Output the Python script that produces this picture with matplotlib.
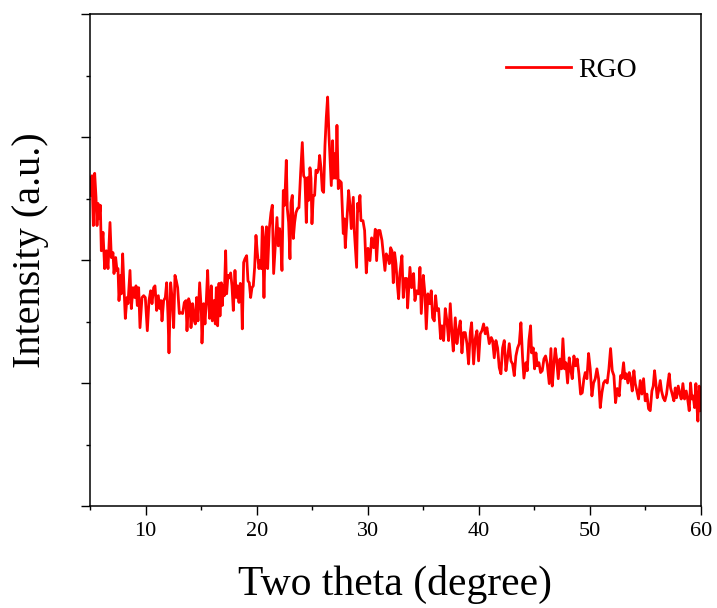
import matplotlib
matplotlib.use("Agg")
import matplotlib.pyplot as plt
from matplotlib.ticker import MultipleLocator, NullFormatter

plt.rcParams['font.family'] = ['Liberation Serif', 'DejaVu Serif']

two_theta = [
    5.00, 5.18, 5.30, 5.42, 5.54, 5.63, 5.72, 5.81, 5.93, 6.02, 6.17, 6.32, 6.47, 6.62, 6.80, 6.92,
    7.07, 7.16, 7.31, 7.43, 7.52, 7.61, 7.76, 7.82, 7.94, 8.06, 8.18, 8.33, 8.42, 8.60, 8.72, 8.87,
    9.02, 9.14, 9.26, 9.38, 9.50, 9.68, 9.83, 9.98, 10.16, 10.31, 10.46, 10.58, 10.73, 10.85, 11.00,
    11.15, 11.27, 11.39, 11.48, 11.63, 11.78, 11.90, 12.02, 12.11, 12.26, 12.41, 12.53, 12.65, 12.77,
    12.89, 13.04, 13.19, 13.34, 13.49, 13.64, 13.73, 13.88, 14.00, 14.09, 14.24, 14.39, 14.48, 14.60,
    14.72, 14.87, 15.02, 15.08, 15.23, 15.35, 15.47, 15.59, 15.68, 15.77, 15.92, 16.01, 16.16, 16.28,
    16.37, 16.49, 16.61, 16.70, 16.82, 16.91, 17.00, 17.09, 17.21, 17.30, 17.42, 17.54, 17.66, 17.78,
    17.90, 18.05, 18.17, 18.29, 18.41, 18.53, 18.62, 18.71, 18.83, 18.95, 19.10, 19.22, 19.34, 19.46,
    19.58, 19.70, 19.82, 19.94, 20.06, 20.21, 20.30, 20.42, 20.51, 20.66, 20.78, 20.89, 20.99, 21.14,
    21.29, 21.41, 21.53, 21.68, 21.83, 21.95, 22.07, 22.19, 22.28, 22.40, 22.52, 22.67, 22.76, 22.88,
    23.00, 23.09, 23.21, 23.30, 23.42, 23.54, 23.69, 23.81, 23.96, 24.11, 24.23, 24.35, 24.47, 24.59,
    24.68, 24.80, 24.89, 24.98, 25.10, 25.22, 25.34, 25.46, 25.58, 25.67, 25.79, 25.91, 26.03, 26.15,
    26.27, 26.39, 26.51, 26.63, 26.72, 26.84, 26.93, 27.05, 27.14, 27.23, 27.35, 27.47, 27.62, 27.80,
    27.89, 27.98, 28.13, 28.28, 28.40, 28.52, 28.70, 28.79, 29.00, 29.09, 29.18, 29.30, 29.39, 29.57,
    29.72, 29.87, 30.02, 30.20, 30.35, 30.53, 30.68, 30.80, 30.95, 31.10, 31.28, 31.40, 31.55, 31.67,
    31.82, 31.94, 32.06, 32.18, 32.30, 32.42, 32.54, 32.66, 32.78, 32.90, 33.08, 33.20, 33.35, 33.50,
    33.59, 33.80, 33.95, 34.13, 34.25, 34.40, 34.58, 34.70, 34.82, 35.00, 35.15, 35.27, 35.42, 35.57,
    35.72, 35.84, 35.99, 36.11, 36.23, 36.38, 36.56, 36.68, 36.83, 36.98, 37.13, 37.28, 37.43, 37.58,
    37.70, 37.88, 38.03, 38.18, 38.33, 38.48, 38.63, 38.78, 38.93, 39.08, 39.23, 39.35, 39.53, 39.68,
    39.83, 39.98, 40.13, 40.28, 40.43, 40.58, 40.73, 40.94, 41.12, 41.24, 41.39, 41.54, 41.69, 41.84,
    41.99, 42.14, 42.29, 42.44, 42.59, 42.74, 42.89, 43.04, 43.19, 43.34, 43.49, 43.64, 43.79, 43.94,
    44.06, 44.24, 44.36, 44.51, 44.66, 44.75, 44.90, 45.02, 45.14, 45.26, 45.41, 45.56, 45.71, 45.86,
    46.01, 46.16, 46.34, 46.49, 46.61, 46.76, 46.88, 47.00, 47.15, 47.30, 47.45, 47.57, 47.72, 47.84,
    47.99, 48.14, 48.26, 48.41, 48.56, 48.71, 48.86, 49.01, 49.16, 49.31, 49.46, 49.58, 49.73, 49.88,
    50.03, 50.18, 50.33, 50.48, 50.63, 50.78, 50.93, 51.08, 51.23, 51.38, 51.56, 51.71, 51.86, 52.01,
    52.16, 52.31, 52.46, 52.64, 52.76, 52.88, 53.03, 53.15, 53.27, 53.42, 53.54, 53.66, 53.81, 53.96,
    54.08, 54.23, 54.38, 54.53, 54.68, 54.83, 54.98, 55.13, 55.28, 55.43, 55.58, 55.70, 55.82, 55.94,
    56.06, 56.18, 56.33, 56.45, 56.60, 56.75, 56.90, 57.02, 57.14, 57.26, 57.41, 57.56, 57.68, 57.80,
    57.95, 58.10, 58.22, 58.37, 58.52, 58.67, 58.82, 58.94, 59.06, 59.18, 59.30, 59.42, 59.54, 59.63,
    59.72, 59.84, 59.95,
]

intensity = [
    505, 537, 456, 541, 502, 456, 492, 467, 489, 415, 445, 386, 415, 386, 461, 404,
    412, 378, 404, 383, 386, 334, 375, 345, 410, 355, 305, 339, 329, 383, 321, 355,
    339, 358, 326, 355, 290, 339, 342, 339, 285, 334, 350, 329, 355, 358, 318,
    342, 321, 334, 301, 334, 339, 363, 309, 249, 363, 334, 290, 375, 366,
    355, 313, 314, 313, 331, 334, 285, 337, 329, 290, 329, 301, 296, 339,
    301, 363, 318, 265, 329, 296, 334, 383, 334, 305, 358, 301, 334, 296,
    355, 293, 362, 309, 363, 326, 358, 342, 415, 345, 375, 371, 379, 358,
    318, 383, 339, 358, 331, 362, 358, 288, 396, 402, 407, 366, 363, 339,
    355, 358, 388, 440, 412, 386, 399, 386, 454, 339, 436, 454, 386, 451,
    477, 489, 378, 423, 469, 423, 451, 423, 383, 513, 489, 562, 484, 461,
    402, 493, 505, 435, 461, 477, 484, 485, 542, 591, 537, 533, 461, 534,
    497, 550, 533, 459, 505, 505, 546, 542, 549, 570, 550, 513, 510, 586,
    632, 665, 603, 554, 521, 594, 533, 573, 533, 619, 516, 529, 526, 443,
    467, 420, 467, 513, 489, 451, 502, 448, 388, 492, 480, 505, 464, 464,
    448, 379, 419, 399, 436, 420, 450, 399, 448, 448, 432, 410, 383, 410,
    404, 394, 420, 415, 363, 412, 394, 362, 337, 379, 407, 339, 370, 370,
    322, 388, 355, 378, 334, 350, 345, 388, 313, 375, 345, 288, 345, 329,
    350, 306, 301, 342, 318, 321, 272, 293, 269, 321, 301, 269, 329, 280,
    252, 306, 264, 285, 301, 249, 282, 282, 264, 231, 282, 298, 231, 272,
    285, 236, 280, 285, 296, 280, 290, 264, 274, 269, 241, 269, 257, 225,
    215, 257, 269, 220, 241, 264, 236, 231, 212, 244, 257, 264, 298, 241,
    208, 233, 220, 269, 293, 249, 257, 223, 249, 228, 233, 217, 220, 239,
    244, 231, 199, 256, 195, 231, 256, 239, 207, 239, 223, 272, 223, 233,
    200, 241, 223, 207, 244, 228, 239, 215, 182, 184, 207, 217, 207, 248,
    223, 179, 200, 207, 223, 207, 160, 184, 200, 204, 200, 223, 256, 220,
    212, 168, 191, 179, 212, 208, 233, 207, 215, 200, 217, 208, 187, 220,
    199, 187, 174, 204, 182, 207, 171, 182, 158, 155, 187, 195, 220, 199,
    176, 187, 204, 187, 176, 171, 182, 200, 215, 192, 182, 171, 192, 176,
    195, 182, 174, 199, 174, 187, 171, 155, 200, 174, 179, 160, 199, 163,
    138, 195, 155,
]

series_label = "RGO"
x_label = "Two theta (degree)"
y_label = "Intensity (a.u.)"

W, H = 717, 608
fig = plt.figure(figsize=(W / 100, H / 100), dpi=100)
ax = fig.add_axes([90 / W, 1 - 506 / H, (701 - 90) / W, (506 - 14) / H])

ax.plot(two_theta, intensity, color='#ff0000', lw=2.0, label=series_label)

ax.set_xlim(5, 60)
ax.set_ylim(0, 800)
ax.xaxis.set_major_locator(MultipleLocator(10))
ax.xaxis.set_minor_locator(MultipleLocator(5))
ax.yaxis.set_major_locator(MultipleLocator(200))
ax.yaxis.set_minor_locator(MultipleLocator(100))
ax.yaxis.set_major_formatter(NullFormatter())

ax.tick_params(which='both', direction='out', top=False, right=False, width=1.0, color='black')
ax.tick_params(which='major', length=6.5, labelsize=16, pad=5)
ax.tick_params(which='minor', length=3.2)
for s in ax.spines.values():
    s.set_linewidth(1.1)

ax.set_xlabel(x_label, fontsize=30, labelpad=17)
ax.set_ylabel(y_label, fontsize=29)
ax.yaxis.set_label_coords(-0.067, 0.52)

leg = ax.legend(loc='center left', bbox_to_anchor=((506 - 90) / 611, (506 - 70) / 492),
                frameon=False, fontsize=20, borderpad=0, borderaxespad=0,
                handlelength=2.35, handletextpad=0.25)

fig.savefig('out.png', dpi=100)
